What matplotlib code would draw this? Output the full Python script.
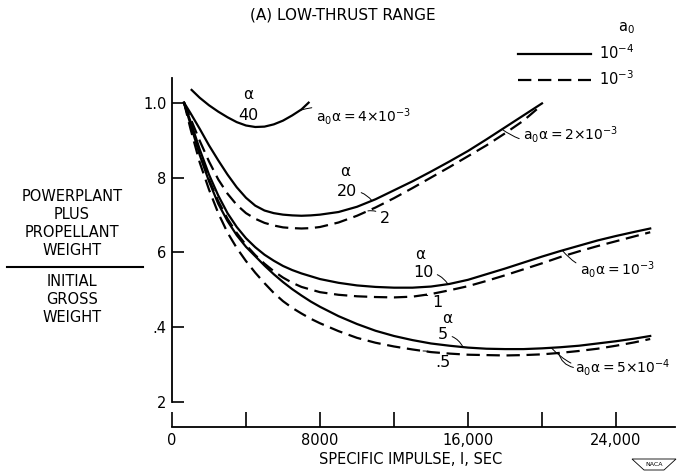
import numpy as np
import matplotlib
matplotlib.use("Agg")
import matplotlib.pyplot as plt
from matplotlib.lines import Line2D
from matplotlib.patches import Polygon

plt.rcParams["font.family"] = "DejaVu Sans"
plt.rcParams["mathtext.default"] = "regular"

# Specific impulse (sec) vs. powerplant+propellant / gross weight
# solid lines: a0 = 1e-4
i_a40 = [1060, 1500, 2000, 2500, 3000, 3500, 4000, 4500, 5000, 5500, 6000, 6500, 7000, 7385]
w_a40 = [1.034, 1.013, 0.993, 0.976, 0.961, 0.948, 0.939, 0.935, 0.936, 0.942, 0.952, 0.966, 0.982, 1.0]

i_a20 = [650, 1000, 1500, 2000, 2500, 3000, 3500, 4000, 4500, 5000, 5500, 6000, 6500, 7000,
         7500, 8000, 9000, 10000, 11000, 12000, 13000, 14000, 15000, 16000, 17000, 18000, 19000, 20000]
w_a20 = [1.0, 0.972, 0.930, 0.886, 0.846, 0.808, 0.774, 0.746, 0.725, 0.712, 0.705, 0.701, 0.699, 0.698,
         0.699, 0.701, 0.708, 0.722, 0.742, 0.766, 0.790, 0.816, 0.843, 0.871, 0.902, 0.934, 0.966, 0.998]

i_a10 = [650, 1000, 1500, 2000, 2500, 3000, 3500, 4000, 4500, 5000, 5500, 6000, 6500, 7000,
         8000, 9000, 10000, 11000, 12000, 13000, 14000, 15000, 16000, 17000, 18000, 19000, 20000,
         21000, 22000, 23000, 24000, 25000, 25850]
w_a10 = [1.0, 0.950, 0.875, 0.808, 0.752, 0.705, 0.668, 0.638, 0.614, 0.594, 0.578, 0.564, 0.553, 0.544,
         0.529, 0.519, 0.512, 0.508, 0.506, 0.506, 0.509, 0.516, 0.527, 0.542, 0.557, 0.573, 0.589,
         0.604, 0.618, 0.632, 0.644, 0.655, 0.664]

i_a5 = [650, 1000, 1500, 2000, 2500, 3000, 3500, 4000, 4500, 5000, 5500, 6000, 6500, 7000, 7500,
        8000, 9000, 10000, 11000, 12000, 13000, 14000, 15000, 16000, 17000, 18000, 19000, 20000,
        21000, 22000, 23000, 24000, 25000, 25850]
w_a5 = [1.0, 0.942, 0.860, 0.790, 0.730, 0.684, 0.646, 0.615, 0.590, 0.565, 0.542, 0.521, 0.502, 0.485, 0.469,
        0.455, 0.430, 0.409, 0.391, 0.377, 0.366, 0.357, 0.351, 0.346, 0.343, 0.342, 0.342, 0.344,
        0.347, 0.351, 0.357, 0.363, 0.370, 0.377]

# dashed lines: a0 = 1e-3
i_a2 = [650, 1000, 1500, 2000, 2500, 3000, 3500, 4000, 4500, 5000, 5500, 6000, 6500, 7000, 7500,
        8000, 9000, 10000, 11000, 12000, 13000, 14000, 15000, 16000, 17000, 18000, 19000, 19900]
w_a2 = [1.0, 0.958, 0.898, 0.843, 0.795, 0.757, 0.727, 0.705, 0.690, 0.679, 0.672, 0.667, 0.665, 0.664, 0.665,
        0.668, 0.680, 0.698, 0.720, 0.745, 0.772, 0.800, 0.828, 0.857, 0.886, 0.918, 0.952, 0.990]

i_a1 = [650, 1000, 1500, 2000, 2500, 3000, 3500, 4000, 4500, 5000, 5500, 6000, 6500, 7000,
        8000, 9000, 10000, 11000, 12000, 13000, 14000, 15000, 16000, 17000, 18000, 19000, 20000,
        21000, 22000, 23000, 24000, 25000, 25850]
w_a1 = [1.0, 0.945, 0.865, 0.795, 0.737, 0.690, 0.652, 0.620, 0.593, 0.570, 0.550, 0.533, 0.519, 0.508,
        0.494, 0.487, 0.483, 0.481, 0.480, 0.482, 0.489, 0.499, 0.510, 0.524, 0.539, 0.555, 0.571,
        0.588, 0.603, 0.617, 0.630, 0.643, 0.654]

i_a05 = [650, 1000, 1500, 2000, 2500, 3000, 3500, 4000, 4500, 5000, 5500, 6000, 6500, 7000, 7500,
         8000, 9000, 10000, 11000, 12000, 13000, 14000, 15000, 16000, 17000, 18000, 19000, 20000,
         21000, 22000, 23000, 24000, 25000, 25850]
w_a05 = [1.0, 0.930, 0.840, 0.768, 0.705, 0.653, 0.612, 0.577, 0.546, 0.518, 0.492, 0.470, 0.452, 0.437, 0.423,
         0.411, 0.390, 0.372, 0.359, 0.349, 0.341, 0.334, 0.330, 0.327, 0.326, 0.325, 0.326, 0.328,
         0.332, 0.337, 0.343, 0.351, 0.360, 0.369]

x_ticks = [0, 4000, 8000, 12000, 16000, 20000, 24000]
x_ticklabels = ["0", "", "8000", "", "16,000", "", "24,000"]
y_ticks = [0.2, 0.4, 0.6, 0.8, 1.0]
y_ticklabels = ["2", ".4", "6", "8", "1.0"]

W, H = 683, 473
fig = plt.figure(figsize=(W / 100, H / 100), dpi=100)
ax = fig.add_axes([172 / W, 1 - 427 / H, 503 / W, (427 - 65.2) / H])

solid = dict(color="black", lw=1.6)
dashed = dict(color="black", lw=1.6, ls=(0, (6, 3)))

ax.plot(i_a40, w_a40, **solid)
l_solid, = ax.plot(i_a20, w_a20, **solid)
ax.plot(i_a10, w_a10, **solid)
ax.plot(i_a5, w_a5, **solid)
l_dash, = ax.plot(i_a2, w_a2, **dashed)
ax.plot(i_a1, w_a1, **dashed)
ax.plot(i_a05, w_a05, **dashed)

ax.set_xlim(0, 27190)
ax.set_ylim(0.134, 1.10)
for s in ("top", "right"):
    ax.spines[s].set_visible(False)
ax.spines["left"].set_bounds(0.2, 1.066)
ax.spines["left"].set_linewidth(1.3)
ax.spines["bottom"].set_linewidth(1.3)

ax.set_xticks(x_ticks)
ax.set_xticklabels(x_ticklabels)
ax.set_yticks(y_ticks)
ax.set_yticklabels(y_ticklabels)
ax.tick_params(axis="x", direction="in", length=10.5, width=1.2, pad=4, labelsize=10.5)
ax.tick_params(axis="y", direction="in", length=8.5, width=1.2, pad=4, labelsize=10.5)

ax.set_xlabel("SPECIFIC IMPULSE, I, SEC", fontsize=10.5)
ax.xaxis.set_label_coords(0.475, -0.068)


def leader(text, xt, yt, xs, ys, x_at, rad=0.2, ha="center", fs=10.5):
    ax.annotate(text, xy=(x_at, np.interp(x_at, xs, ys)), xytext=(xt, yt),
                ha=ha, va="center", fontsize=fs,
                arrowprops=dict(arrowstyle="-", lw=0.7, color="black",
                                connectionstyle=f"arc3,rad={rad}", shrinkA=1, shrinkB=0))


# curve labels
ax.text(4110, 1.021, "α", ha="center", va="center", fontsize=11)
ax.text(4110, 0.967, "40", ha="center", va="center", fontsize=11.5)
leader("$a_0α = 4×10^{-3}$", 7780, 0.962, i_a40, w_a40, 6930, rad=0.2, ha="left", fs=10)

ax.text(9350, 0.815, "α", ha="center", va="center", fontsize=11)
leader("20", 9460, 0.762, i_a20, w_a20, 10810, rad=-0.3, fs=11.5)
leader("2", 11510, 0.692, i_a2, w_a2, 10590, rad=0.3, fs=11.5)
leader("$a_0α = 2×10^{-3}$", 18990, 0.914, i_a20, w_a20, 17840, rad=-0.3, ha="left", fs=10)

ax.text(13400, 0.594, "α", ha="center", va="center", fontsize=11)
leader("10", 13570, 0.546, i_a10, w_a10, 14920, rad=-0.3, fs=11.5)
leader("1", 14320, 0.466, i_a1, w_a1, 13570, rad=0.3, fs=11.5)
leader("$a_0α = 10^{-3}$", 22050, 0.554, i_a10, w_a10, 21100, rad=-0.3, ha="left", fs=10)

ax.text(14860, 0.425, "α", ha="center", va="center", fontsize=11)
leader("5", 14650, 0.380, i_a5, w_a5, 15730, rad=-0.3, fs=11.5)
leader(".5", 14650, 0.306, i_a05, w_a05, 13570, rad=0.3, fs=11.5)
leader("$a_0α = 5×10^{-4}$", 21780, 0.293, i_a5, w_a5, 20500, rad=-0.3, ha="left", fs=10)
ax.annotate("", xy=(20900, np.interp(20900, i_a05, w_a05)), xytext=(21700, 0.293),
            arrowprops=dict(arrowstyle="-", lw=0.7, color="black",
                            connectionstyle="arc3,rad=-0.3", shrinkA=0, shrinkB=0))

# legend
fig.legend([l_solid, l_dash], ["$10^{-4}$", "$10^{-3}$"], title="$a_0$",
           loc="upper right", bbox_to_anchor=(642 / W, 1 - 12 / H),
           frameon=False, handlelength=5.0, handletextpad=0.6, labelspacing=0.5,
           borderpad=0, fontsize=10.5, title_fontsize=10.5, alignment="right")

# title and y label
fig.text(343 / W, 1 - 15 / H, "(A) LOW-THRUST RANGE", ha="center", va="center", fontsize=11)
fig.text(72 / W, 1 - 223.5 / H, "POWERPLANT\nPLUS\nPROPELLANT\nWEIGHT",
         ha="center", va="center", fontsize=10.5, linespacing=1.25)
fig.text(72 / W, 1 - 299.5 / H, "INITIAL\nGROSS\nWEIGHT",
         ha="center", va="center", fontsize=10.5, linespacing=1.25)
fig.add_artist(Line2D([7 / W, 143 / W], [1 - 267 / H] * 2, transform=fig.transFigure,
                      color="black", lw=1.5))

# NACA stamp
naca = [(632, 459), (676, 459), (664, 470), (644, 470)]
fig.add_artist(Polygon([(x / W, 1 - y / H) for x, y in naca], closed=True, fill=False,
                       lw=0.6, edgecolor="black", transform=fig.transFigure))
fig.text(654 / W, 1 - 464 / H, "NACA", ha="center", va="center", fontsize=4.5)

fig.savefig("out.png", dpi=100)
